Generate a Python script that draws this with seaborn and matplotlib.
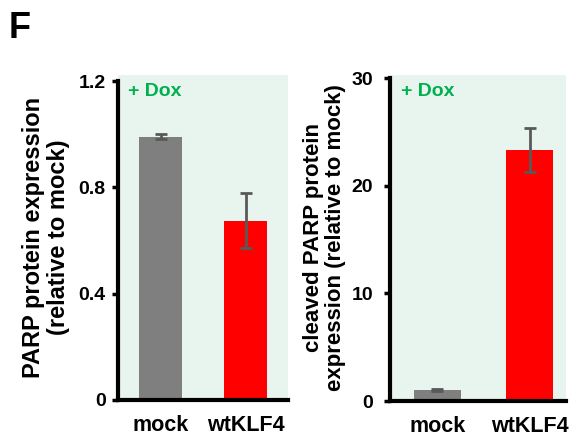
import matplotlib
matplotlib.use("Agg")
import matplotlib.pyplot as plt
import seaborn as sns
import pandas as pd

categories = ["mock", "wtKLF4"]
parp_values = [0.99, 0.675]
parp_errors = [0.01, 0.103]
cleaved_values = [1.0, 23.3]
cleaved_errors = [0.1, 2.05]
bar_colors = ["#7F7F7F", "#FF0000"]

sns.set_theme(style="white")
plt.rcParams["font.family"] = ["Liberation Sans", "DejaVu Sans"]
plt.rcParams["font.weight"] = "bold"
plt.rcParams["text.color"] = "black"
plt.rcParams["axes.labelcolor"] = "black"
plt.rcParams["xtick.color"] = "black"
plt.rcParams["ytick.color"] = "black"

fig = plt.figure(figsize=(5.74, 4.43), dpi=100)
bg = "#E7F5EE"
green = "#00B050"

ax1 = fig.add_axes([118/574, 1-400/443, (288-118)/574, (400-75)/443])
ax2 = fig.add_axes([390/574, 1-401/443, (566-390)/574, (401-75)/443])

def panel(ax, vals, errs, ylim, yticks, yticklabels, ylabel, xlim, width, pad, labelpad, ylsize):
    df = pd.DataFrame({"cat": categories, "val": vals})
    sns.barplot(data=df, x="cat", y="val", hue="cat", palette=bar_colors,
                width=width, errorbar=None, legend=False, ax=ax, saturation=1,
                linewidth=0)
    ax.errorbar(range(len(categories)), vals, yerr=errs, fmt="none",
                ecolor="#595959", elinewidth=2, capsize=4.5, capthick=2, zorder=5)
    ax.set_facecolor(bg)
    ax.set_xlim(*xlim)
    ax.set_ylim(*ylim)
    ax.set_yticks(yticks)
    ax.set_yticklabels(yticklabels, fontsize=14, fontweight="bold", color="black")
    ax.set_xticks(range(len(categories)))
    ax.set_xticklabels(categories, fontsize=15.5, fontweight="bold", color="black")
    ax.tick_params(axis="y", direction="out", length=4, width=2.5, pad=pad, left=True, color="black")
    ax.tick_params(axis="x", length=0, pad=11)
    ax.set_xlabel("")
    ax.set_ylabel(ylabel, fontsize=ylsize, fontweight="bold", linespacing=1.1,
                  labelpad=labelpad, color="black")
    for s in ["top", "right"]:
        ax.spines[s].set_visible(False)
    for s in ["left", "bottom"]:
        ax.spines[s].set_linewidth(3)
        ax.spines[s].set_color("black")
    ax.spines["left"].set_bounds(ylim[0], yticks[-1])
    ax.text(0.06, 0.975, "+ Dox", transform=ax.transAxes, color=green,
            fontsize=14, fontweight="bold", ha="left", va="top")

panel(ax1, parp_values, parp_errors, (0, 1.2226), [0, 0.4, 0.8, 1.2],
      ["0", "0.4", "0.8", "1.2"], "PARP protein expression\n(relative to mock)",
      (-0.5, 1.5), 0.5, 5, 6, 17)
panel(ax2, cleaved_values, cleaved_errors, (0, 30.28), [0, 10, 20, 30],
      ["0", "10", "20", "30"], "cleaved PARP protein\nexpression (relative to mock)",
      (-0.51, 1.39), 0.51, 8, 4, 16)

fig.text(9/574, 1-11/443, "F", fontsize=26, fontweight="bold", ha="left", va="top", color="black")

fig.savefig("out.png", dpi=100)
